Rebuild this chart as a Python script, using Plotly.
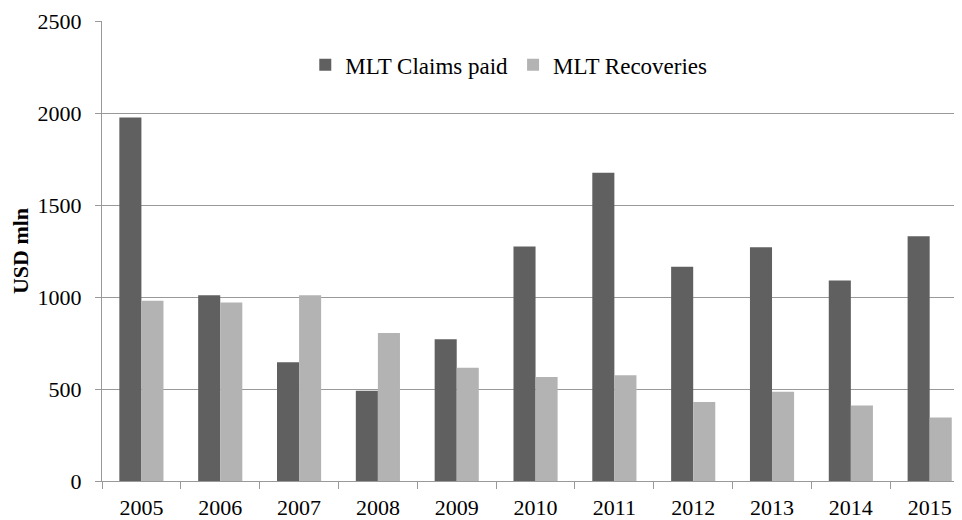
import plotly.graph_objects as go

years = ["2005", "2006", "2007", "2008", "2009", "2010",
         "2011", "2012", "2013", "2014", "2015"]
claims_paid = [1975, 1010, 645, 490, 770, 1275, 1675, 1165, 1270, 1090, 1330]
recoveries = [980, 970, 1010, 805, 615, 565, 575, 430, 485, 410, 345]

fig = go.Figure()
fig.add_trace(go.Bar(
    x=years, y=claims_paid, name="MLT Claims paid",
    marker={"color": "#606060", "line": {"width": 0}},
))
fig.add_trace(go.Bar(
    x=years, y=recoveries, name="MLT Recoveries",
    marker={"color": "#b3b3b3", "line": {"width": 0}},
))

fig.update_layout(
    width=962,
    height=520,
    barmode="group",
    bargap=0.44,
    bargroupgap=0,
    plot_bgcolor="white",
    paper_bgcolor="white",
    font={"family": "Liberation Serif, Times New Roman, serif", "size": 22, "color": "#000"},
    # page body adds an 8px offset, margins account for it
    margin={"l": 94, "r": 8, "t": 13, "b": 47},
    legend={
        "orientation": "h",
        "x": 0.473, "xanchor": "center",
        "y": 0.905, "yanchor": "middle",
        "font": {"size": 23},
        "bgcolor": "rgba(0,0,0,0)",
    },
    xaxis={
        "automargin": False,
        # the last category runs slightly past the right edge, as in the original
        "range": [-0.5, 10.41],
        "showline": True, "linecolor": "#999", "linewidth": 1,
        "ticks": "outside", "tickson": "boundaries", "ticklen": 7,
        "tickcolor": "#999", "showgrid": False,
        "tickfont": {"size": 22},
        "ticklabelstandoff": 7,
        "ticklabeloverflow": "allow",
    },
    yaxis={
        "automargin": False,
        "range": [0, 2500], "dtick": 500,
        "showline": True, "linecolor": "#999", "linewidth": 1,
        "gridcolor": "#999", "gridwidth": 1,
        "ticks": "outside", "ticklen": 6, "tickcolor": "#999",
        "zeroline": False,
        "tickfont": {"size": 22},
        "ticklabelstandoff": 9,
        "ticklabeloverflow": "allow",
        "title": {"text": "<b>USD mln</b>", "font": {"size": 22}, "standoff": 4},
    },
)

fig.write_html("out.html")
